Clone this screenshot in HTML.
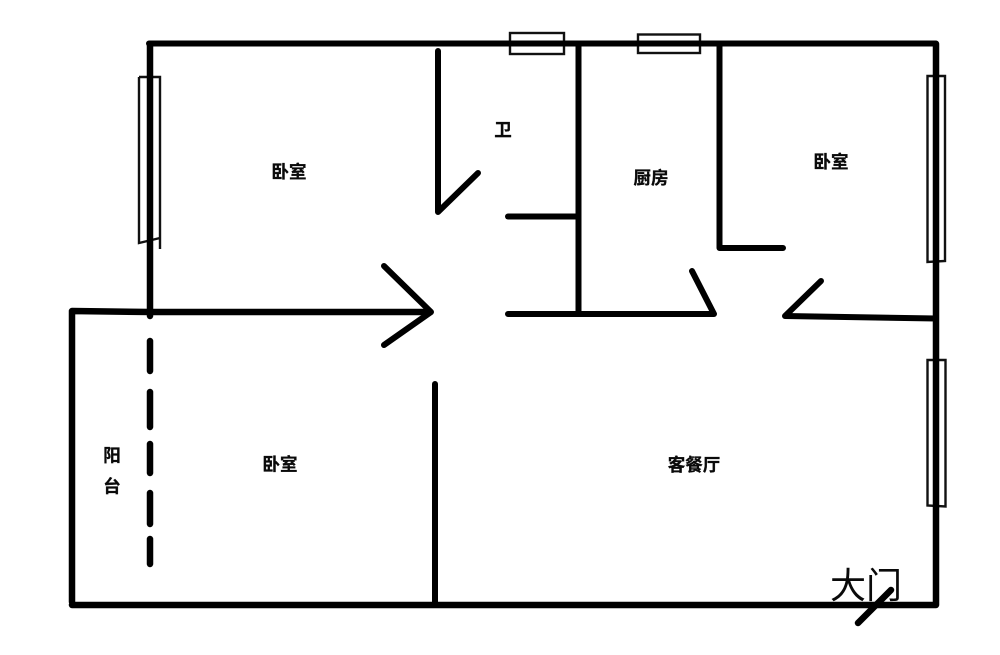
<!DOCTYPE html>
<html lang="zh">
<head>
<meta charset="utf-8">
<style>
html,body{margin:0;padding:0;background:#fff;width:1000px;height:655px;overflow:hidden}
svg{display:block}
text{font-family:"Liberation Sans","Noto Sans CJK SC",sans-serif;fill:#0a0a0a;stroke:#0a0a0a;stroke-width:.3px;font-weight:700;font-size:17.500px;text-anchor:middle}
</style>
</head>
<body>
<svg width="1000" height="655" viewBox="0 0 1000 655" xmlns="http://www.w3.org/2000/svg">
<rect width="1000" height="655" fill="#fff"/>
<!-- windows -->
<g fill="none" stroke="#111" stroke-width="2.400">
<path d="M139 77H160V249M160 238L139 243V77"/>
<rect x="510" y="33" width="54" height="21"/>
<rect x="638" y="34.500" width="62" height="18.500"/>
<path d="M927.500 76H945V261L927.500 262Z"/>
<path d="M927.500 360H945.500V506.500L927.500 505.500Z"/>
</g>
<!-- walls -->
<g fill="none" stroke="#000" stroke-width="6" stroke-linecap="round" stroke-linejoin="round">
<path d="M149 43.500H936"/>
<path d="M936 44V605H72" stroke-width="6.500"/>
<path d="M150 44V316" stroke-width="6.500"/>
<path d="M72 602V311L150 312H430" stroke-width="6.500"/>
<path d="M384 266L431 312L384 345"/>
<path d="M438 51V212L478 173"/>
<path d="M508 216.500H578"/>
<path d="M578.500 44V314"/>
<path d="M508 314H714L692 271"/>
<path d="M719.500 44V248H783"/>
<path d="M821 281L785 316L936 318.500"/>
<path d="M435 384V604"/>
<path d="M150 341V371" stroke-width="6.500"/>
<path d="M150 392V427" stroke-width="6.500"/>
<path d="M150 444V473" stroke-width="6.500"/>
<path d="M150 493V524" stroke-width="6.500"/>
<path d="M150 539V564" stroke-width="6.500"/>
</g>
<!-- labels -->
<text x="289" y="178">卧室</text>
<text x="503" y="136">卫</text>
<text x="651" y="184">厨房</text>
<text x="831" y="168">卧室</text>
<text x="280" y="470.500">卧室</text>
<text x="694" y="471">客餐厅</text>
<text x="112" y="461.500">阳</text>
<text x="112" y="492.500">台</text>
<text x="866" y="598" style="font-weight:400;font-size:36px;stroke:none">大门</text>
<path d="M858 623L891 590" stroke="#000" stroke-width="6.500" stroke-linecap="round"/>
</svg>
</body>
</html>
